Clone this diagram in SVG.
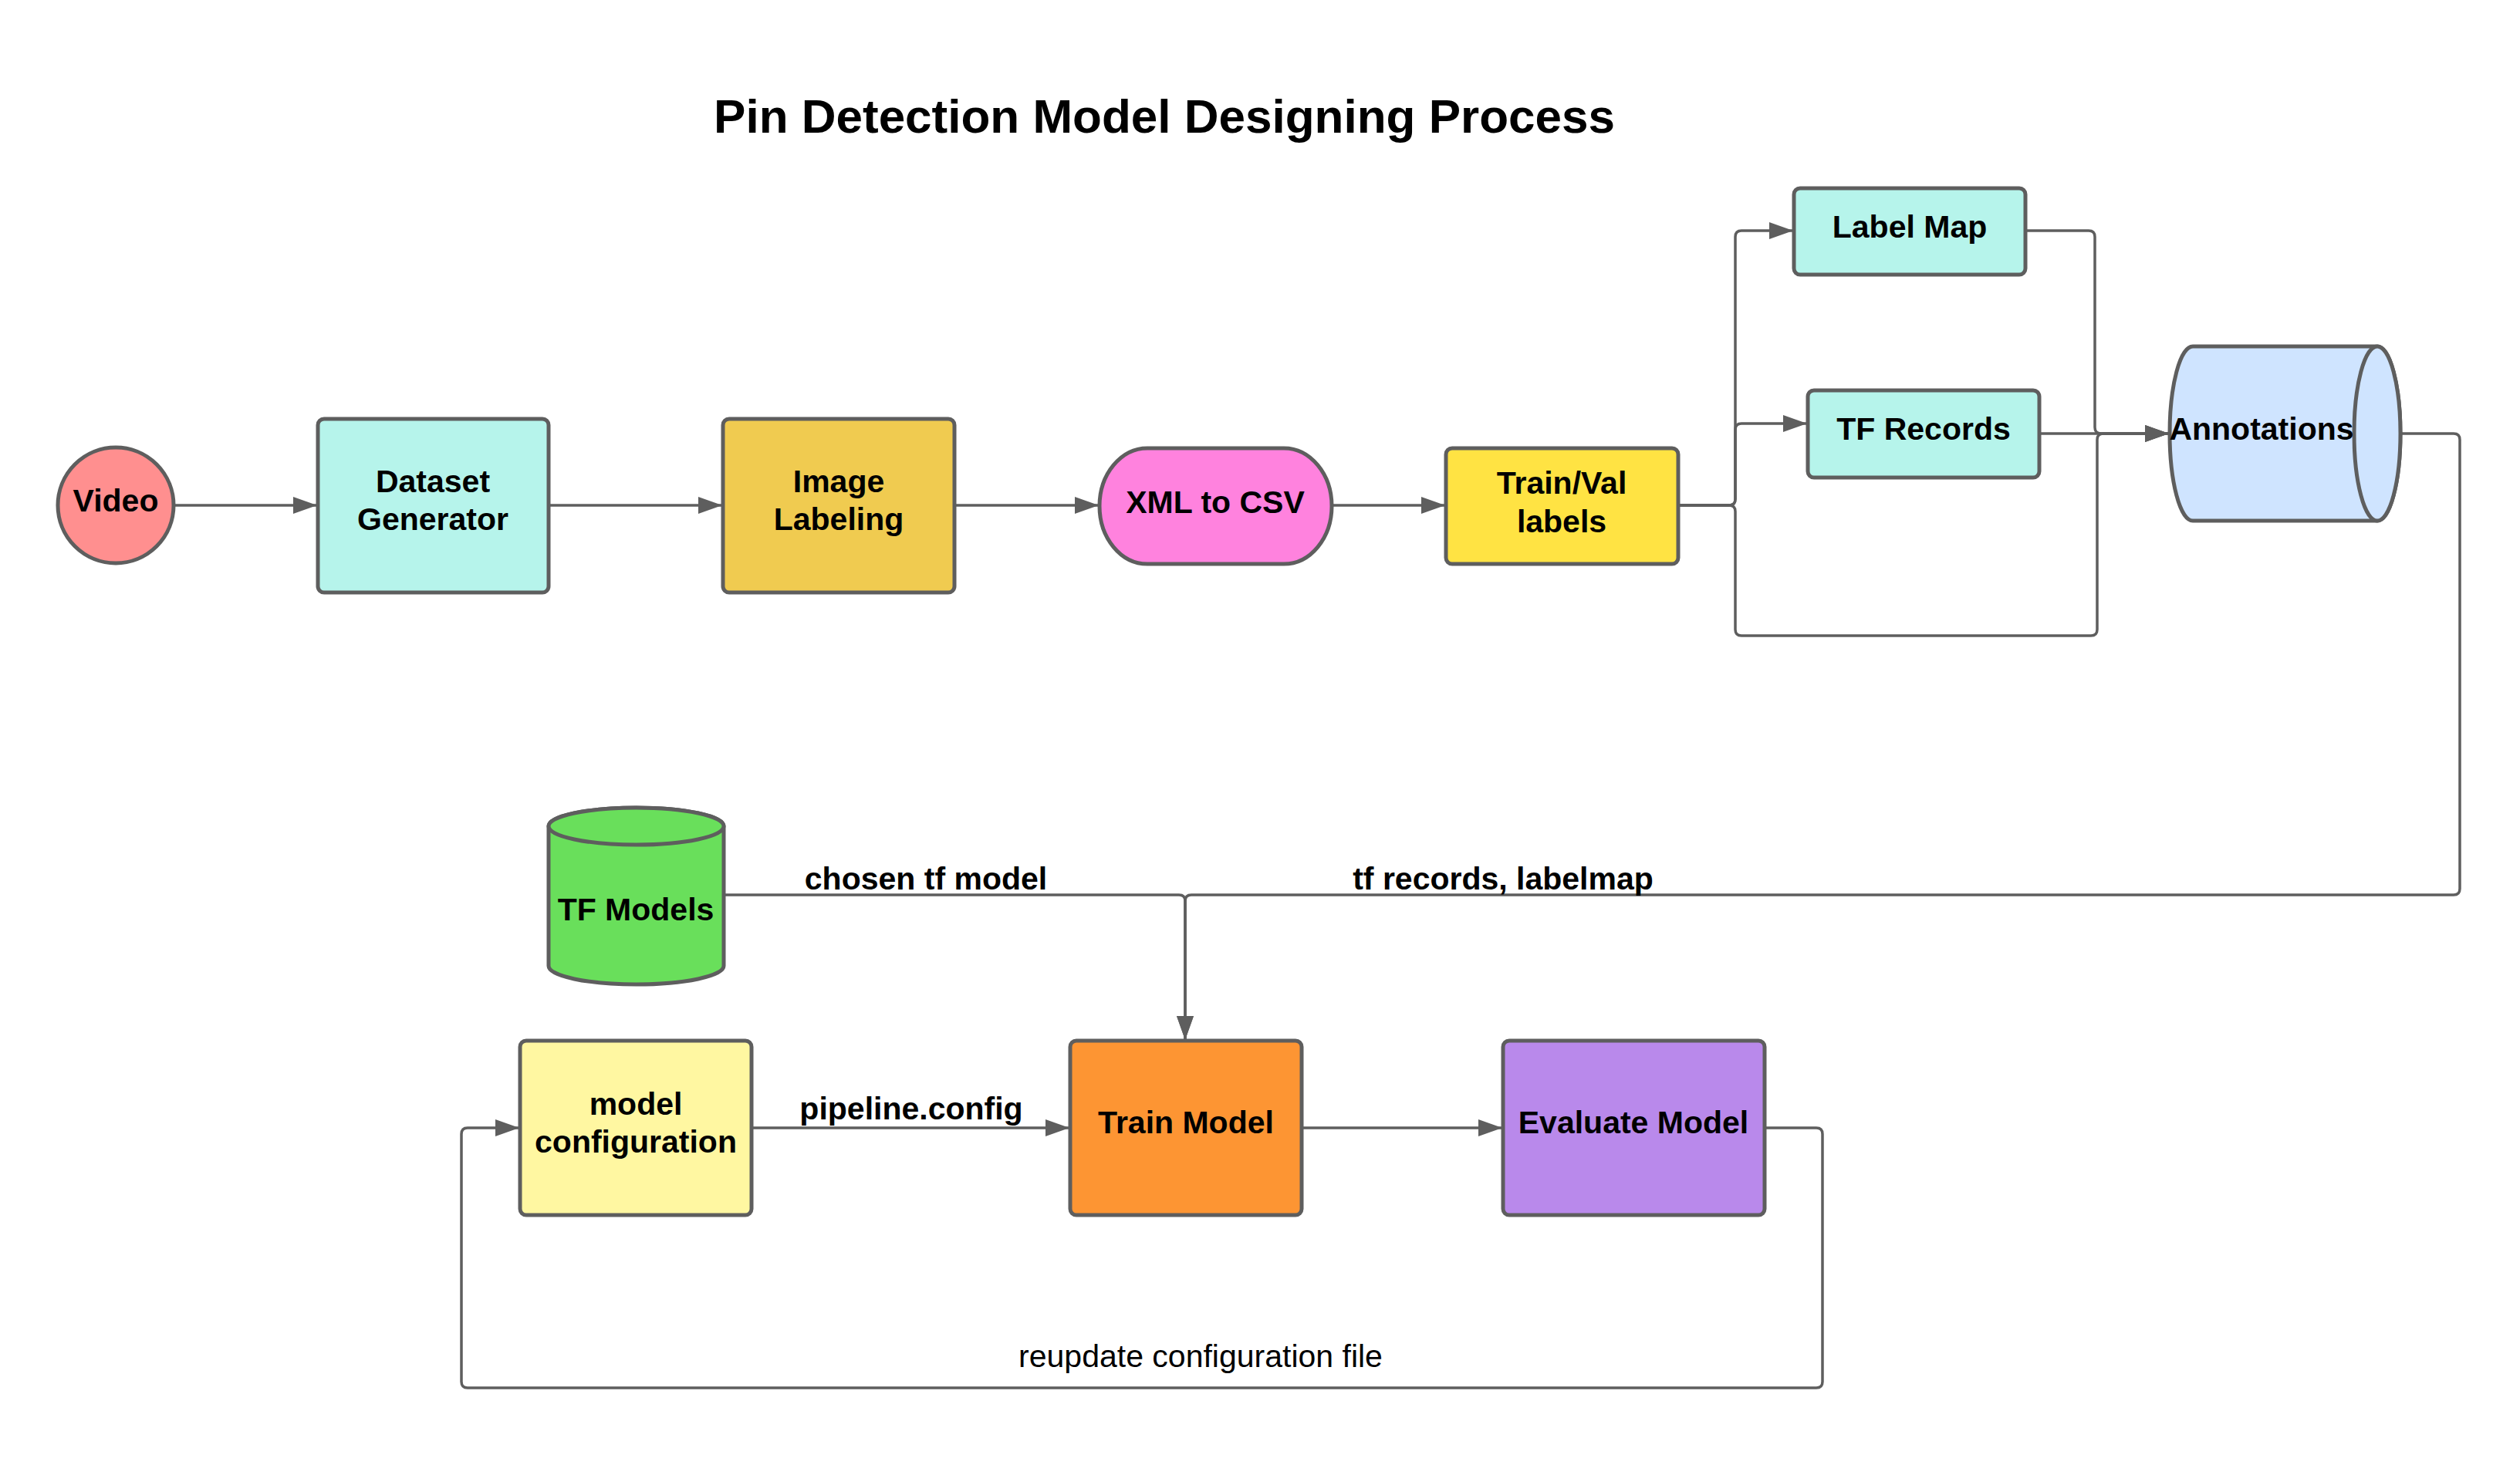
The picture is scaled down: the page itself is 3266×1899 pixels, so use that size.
<svg xmlns="http://www.w3.org/2000/svg" width="3266" height="1899" viewBox="0 0 3266 1899">
<style>
.n{stroke:#5e5e5e;stroke-width:5}
.t{font-family:"Liberation Sans",Arial,sans-serif;font-weight:bold;font-size:41px;fill:#000;text-anchor:middle}
.l{font-family:"Liberation Sans",Arial,sans-serif;font-size:41px;fill:#000;text-anchor:middle}
.e{fill:none;stroke:#5e5e5e;stroke-width:3.5}
</style>
<defs>
<marker id="ah" markerUnits="userSpaceOnUse" markerWidth="32" markerHeight="24" refX="30" refY="11" orient="auto">
<path d="M0,0 L31,11 L0,22 Z" fill="#5e5e5e"/>
</marker>
</defs>
<rect width="3266" height="1899" fill="#fff"/>
<text x="1509" y="172" class="t" style="font-size:62px">Pin Detection Model Designing Process</text>

<g id="connectors">
<path class="e" d="M226 655 H410" marker-end="url(#ah)"/>
<path class="e" d="M711 655 H935" marker-end="url(#ah)"/>
<path class="e" d="M1237 655 H1423" marker-end="url(#ah)"/>
<path class="e" d="M1726 655 H1872" marker-end="url(#ah)"/>
<path class="e" d="M2175 655 H2241 Q2249 655 2249 647 V307 Q2249 299 2257 299 H2323" marker-end="url(#ah)"/>
<path class="e" d="M2175 655 H2241 Q2249 655 2249 647 V557 Q2249 549 2257 549 H2341" marker-end="url(#ah)"/>
<path class="e" d="M2175 655 H2241 Q2249 655 2249 663 V816 Q2249 824 2257 824 H2710 Q2718 824 2718 816 V570 Q2718 562 2726 562 H2810" marker-end="url(#ah)"/>
<path class="e" d="M2625 299 H2707 Q2715 299 2715 307 V554 Q2715 562 2723 562 H2810" marker-end="url(#ah)"/>
<path class="e" d="M2643 562 H2810" marker-end="url(#ah)"/>
<path class="e" d="M3111 562 H3180 Q3188 562 3188 570 V1152 Q3188 1160 3180 1160 H1544 Q1536 1160 1536 1168 V1347" marker-end="url(#ah)"/>
<path class="e" d="M938 1160 H1528 Q1536 1160 1536 1168 V1347" marker-end="url(#ah)"/>
<path class="e" d="M974 1462 H1385" marker-end="url(#ah)"/>
<path class="e" d="M1687 1462 H1946" marker-end="url(#ah)"/>
<path class="e" d="M2287 1462 H2354 Q2362 1462 2362 1470 V1791 Q2362 1799 2354 1799 H606 Q598 1799 598 1791 V1470 Q598 1462 606 1462 H672" marker-end="url(#ah)"/>
<text x="1200" y="1153" class="t">chosen tf model</text>
<text x="1948" y="1153" class="t">tf records, labelmap</text>
<text x="1181" y="1451" class="t">pipeline.config</text>
<text x="1556" y="1772" class="l">reupdate configuration file</text>
</g>

<g id="video">
<ellipse cx="150" cy="655" rx="75" ry="75" class="n" fill="#ff8f8f"/>
<text x="150" y="663" class="t">Video</text>
</g>
<g id="dataset-generator">
<rect x="412" y="543" width="299" height="225" rx="8" class="n" fill="#b6f4eb"/>
<text x="561" y="638" class="t">Dataset</text>
<text x="561" y="687" class="t">Generator</text>
</g>
<g id="image-labeling">
<rect x="937" y="543" width="300" height="225" rx="8" class="n" fill="#f0cb50"/>
<text x="1087" y="638" class="t">Image</text>
<text x="1087" y="687" class="t">Labeling</text>
</g>
<g id="xml-to-csv">
<rect x="1425" y="581" width="301" height="150" rx="62" ry="75" class="n" fill="#ff82de"/>
<text x="1575" y="665" class="t">XML to CSV</text>
</g>
<g id="train-val-labels">
<rect x="1874" y="581" width="301" height="150" rx="8" class="n" fill="#ffe343"/>
<text x="2024" y="640" class="t">Train/Val</text>
<text x="2024" y="690" class="t">labels</text>
</g>
<g id="label-map">
<rect x="2325" y="244" width="300" height="112" rx="8" class="n" fill="#b6f4eb"/>
<text x="2475" y="308" class="t">Label Map</text>
</g>
<g id="tf-records">
<rect x="2343" y="506" width="300" height="113" rx="8" class="n" fill="#b6f4eb"/>
<text x="2493" y="570" class="t">TF Records</text>
</g>
<g id="annotations">
<path d="M2842 449 H3081 A30 113 0 0 1 3081 675 H2842 A30 113 0 0 1 2842 449 Z" class="n" fill="#cfe4ff"/>
<ellipse cx="3081" cy="562" rx="30" ry="113" class="n" fill="#cfe4ff"/>
<text x="2931" y="570" class="t">Annotations</text>
</g>
<g id="tf-models">
<path d="M711 1071 A113.5 24 0 0 1 938 1071 V1252 A113.5 24 0 0 1 711 1252 Z" class="n" fill="#69df5b"/>
<ellipse cx="824.5" cy="1071" rx="113.5" ry="24" class="n" fill="#69df5b"/>
<text x="824" y="1193" class="t">TF Models</text>
</g>
<g id="model-configuration">
<rect x="674" y="1349" width="300" height="226" rx="8" class="n" fill="#fff7a1"/>
<text x="824" y="1445" class="t">model</text>
<text x="824" y="1494" class="t">configuration</text>
</g>
<g id="train-model">
<rect x="1387" y="1349" width="300" height="226" rx="8" class="n" fill="#fd9533"/>
<text x="1537" y="1469" class="t">Train Model</text>
</g>
<g id="evaluate-model">
<rect x="1948" y="1349" width="339" height="226" rx="8" class="n" fill="#b989eb"/>
<text x="2117" y="1469" class="t">Evaluate Model</text>
</g>
</svg>
